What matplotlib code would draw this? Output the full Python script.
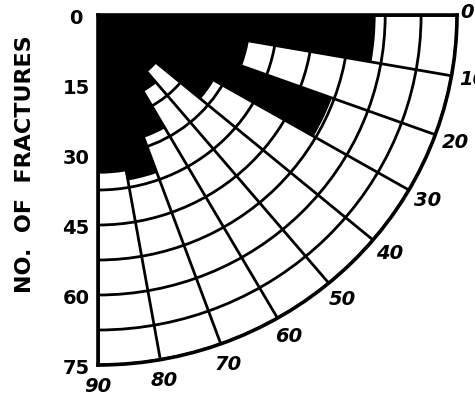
import numpy as np
import matplotlib.pyplot as plt

# 10-degree strike classes and number of fractures in each class
class_start = [0, 10, 20, 30, 40, 50, 60, 70, 80]
fracture_counts = [58, 32, 52, 28, 16, 19, 28, 36, 34]

angle_ticks = [0, 10, 20, 30, 40, 50, 60, 70, 80, 90]
count_ticks = [0, 15, 30, 45, 60, 75]
count_grid = [7.5, 15, 22.5, 30, 37.5, 45, 52.5, 60, 67.5, 75]
r_max = 75

W, H = 475, 401
fig = plt.figure(figsize=(W / 100, H / 100), dpi=100)
ax = fig.add_axes([98 / W, 36 / H, 359 / W, 350 / H], projection='polar')
ax.set_theta_zero_location('E')
ax.set_theta_direction(-1)
ax.set_thetamin(0)
ax.set_thetamax(90)
ax.set_ylim(0, r_max)
ax.set_aspect('auto')

# rose petals
theta = np.deg2rad(np.array(class_start) + 5)
ax.bar(theta, fracture_counts, width=np.deg2rad(10), color='black',
       linewidth=0, zorder=2)

# the 0 label sits tight against the corner, drawn separately below
theta_labels = ['' if a == 0 else str(a) for a in angle_ticks]
ax.set_thetagrids(angle_ticks, theta_labels,
                  fontsize=14, fontweight='bold', fontstyle='italic')
ax.set_rgrids(count_grid, labels=[''] * len(count_grid))
ax.grid(True, color='black', linewidth=2.0)
ax.set_axisbelow(True)
ax.tick_params(axis='x', pad=8.5, length=0)
ax.tick_params(axis='y', length=0)
for sp in ax.spines.values():
    sp.set_color('black')
    sp.set_linewidth(2.6)

ax.annotate(str(angle_ticks[0]), xy=(0, r_max), xytext=(10, 2),
            textcoords='offset pixels', ha='center', va='center',
            fontsize=14, fontweight='bold', fontstyle='italic',
            annotation_clip=False)

# count labels down the left edge
for c in count_ticks:
    ax.annotate(str(c), xy=(np.pi / 2, c), xytext=(-22, -3),
                textcoords='offset pixels', ha='center', va='center',
                fontsize=14, fontweight='bold', annotation_clip=False)

fig.text(25 / W, 1 - 164.5 / H, 'NO.  OF  FRACTURES', rotation=90,
         ha='center', va='center', fontsize=16, fontweight='bold')

fig.savefig('out.png', dpi=100)
